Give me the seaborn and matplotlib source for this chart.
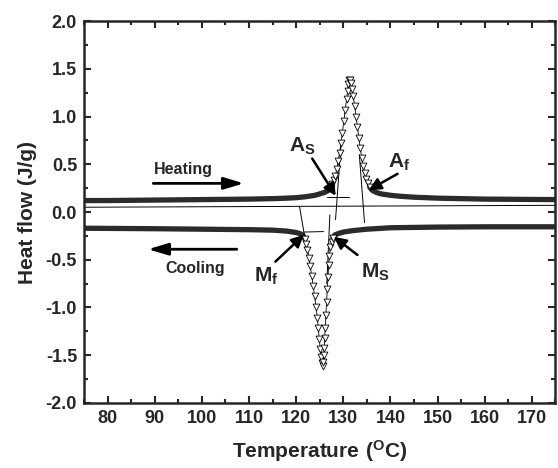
import numpy as np
import matplotlib
matplotlib.use("Agg")
import matplotlib.pyplot as plt
from matplotlib.ticker import MultipleLocator
import seaborn as sns

# --- DATOS (DSC: calentamiento / enfriamiento) ---
# Calentamiento: linea base izquierda, pico endotermico, linea base derecha
heat_left_T = [75, 80, 90, 100, 110, 115, 118, 120, 122, 124, 125, 126, 126.8, 127.3]
heat_left_v = [0.12, 0.12, 0.125, 0.13, 0.135, 0.14, 0.145, 0.15, 0.16, 0.175, 0.19, 0.205, 0.225, 0.25]
heat_peak_T = [127.3, 127.7, 128.0, 128.3, 128.6, 128.9, 129.2, 129.5, 129.8, 130.1, 130.4, 130.7,
               130.9, 131.1, 131.3, 131.5, 131.7, 131.9, 132.1, 132.4, 132.7, 133.0, 133.3, 133.6,
               133.9, 134.2, 134.5, 134.8, 135.2, 135.6]
heat_peak_v = [0.25, 0.29, 0.33, 0.38, 0.45, 0.53, 0.62, 0.72, 0.83, 0.95, 1.07, 1.18,
               1.27, 1.34, 1.38, 1.38, 1.35, 1.29, 1.21, 1.11, 1.00, 0.89, 0.77, 0.67,
               0.57, 0.48, 0.41, 0.35, 0.30, 0.26]
heat_right_T = [135.6, 136.2, 137, 138, 140, 142, 145, 150, 160, 175]
heat_right_v = [0.26, 0.225, 0.205, 0.19, 0.175, 0.165, 0.155, 0.145, 0.135, 0.13]

# Enfriamiento: linea base izquierda, pico exotermico, linea base derecha
cool_left_T = [75, 90, 100, 110, 115, 118, 120, 121, 121.5, 121.8]
cool_left_v = [-0.17, -0.175, -0.18, -0.185, -0.19, -0.2, -0.215, -0.23, -0.25, -0.28]
cool_peak_T = [121.8, 122.1, 122.4, 122.7, 123.0, 123.3, 123.6, 123.9, 124.2, 124.5, 124.7,
               124.9, 125.1, 125.3, 125.45, 125.6, 125.75, 125.85, 125.95, 126.05, 126.15,
               126.3, 126.45, 126.6, 126.75, 126.9, 127.05, 127.25, 127.5, 127.8]
cool_peak_v = [-0.28, -0.33, -0.40, -0.48, -0.57, -0.67, -0.77, -0.88, -0.99, -1.11, -1.22,
               -1.33, -1.43, -1.52, -1.58, -1.61, -1.57, -1.50, -1.42, -1.32, -1.21,
               -1.08, -0.94, -0.81, -0.68, -0.56, -0.46, -0.37, -0.31, -0.27]
cool_right_T = [127.8, 128.2, 129, 130, 132, 135, 140, 150, 160, 175]
cool_right_v = [-0.27, -0.24, -0.225, -0.21, -0.195, -0.18, -0.165, -0.158, -0.155, -0.155]

# Lineas finas de construccion (tangentes y lineas base)
thin_lines = [
    ([75, 175], [0.05, 0.07]),
    ([126.5, 131.3], [0.16, 0.16]),
    ([128.35, 129.5], [-0.08, 0.70]),
    ([134.5, 133.4], [-0.11, 0.60]),
    ([121.6, 125.8], [-0.21, -0.205]),
    ([120.7, 122.3], [0.06, -0.40]),
    ([127.15, 126.5], [-0.03, -0.75]),
]

# Etiquetas de temperaturas de transformacion: (texto, x, y, cola, punta)
labels_tt = [
    (r"$\mathbf{A_S}$", 118.4, 0.63, (123.4, 0.56), (128.4, 0.17)),
    (r"$\mathbf{A_f}$", 139.4, 0.46, (141.5, 0.40), (135.4, 0.23)),
    (r"$\mathbf{M_f}$", 111.0, -0.73, (115.6, -0.52), (121.6, -0.24)),
    (r"$\mathbf{M_S}$", 133.7, -0.69, (133.0, -0.45), (128.0, -0.26)),
]

sns.set_style("ticks")
plt.rcParams["font.family"] = ["Liberation Sans", "DejaVu Sans"]
plt.rcParams["font.weight"] = "bold"
plt.rcParams["axes.unicode_minus"] = False
plt.rcParams["mathtext.fontset"] = "custom"
plt.rcParams["mathtext.bf"] = "Liberation Sans:bold"
plt.rcParams["mathtext.rm"] = "Liberation Sans:bold"

fig, ax = plt.subplots(figsize=(5.58, 4.68), dpi=100)
fig.subplots_adjust(left=0.1505, right=0.9955, top=0.955, bottom=0.139)

# bandas gruesas (lineas base)
for T, v in [(heat_left_T, heat_left_v), (heat_right_T, heat_right_v),
             (cool_left_T, cool_left_v), (cool_right_T, cool_right_v)]:
    sns.lineplot(x=T, y=v, ax=ax, color="#2b2b2b", lw=3.8, estimator=None, sort=False)

# picos con marcadores triangulares
for T, v in [(heat_peak_T, heat_peak_v), (cool_peak_T, cool_peak_v)]:
    sns.lineplot(x=T, y=v, ax=ax, color="black", lw=0.6, estimator=None, sort=False)
    sns.scatterplot(x=T, y=v, ax=ax, marker="v", s=24, color="white",
                    edgecolor="black", linewidth=0.6, zorder=3)

for xs, ys in thin_lines:
    sns.lineplot(x=xs, y=ys, ax=ax, color="black", lw=0.7, estimator=None, sort=False)

# flechas de calentamiento / enfriamiento
big_arrow = dict(arrowstyle="-|>,head_length=0.6,head_width=0.18", lw=2,
                 color="black", shrinkA=0, shrinkB=0, mutation_scale=20)
ax.annotate("", xy=(108.9, 0.30), xytext=(89.7, 0.30), arrowprops=big_arrow)
ax.annotate("", xy=(88.6, -0.39), xytext=(107.4, -0.39), arrowprops=big_arrow)
ax.text(96.1, 0.44, "Heating", fontsize=11.5, fontweight="bold", ha="center", va="center")
ax.text(98.6, -0.59, "Cooling", fontsize=11.5, fontweight="bold", ha="center", va="center")

small_arrow = dict(arrowstyle="-|>,head_length=0.6,head_width=0.3", lw=1.8,
                   color="black", shrinkA=0, shrinkB=0, mutation_scale=12)
for txt, tx, ty, tail, head in labels_tt:
    ax.text(tx, ty, txt, fontsize=15, ha="left", va="baseline")
    ax.annotate("", xy=head, xytext=tail, arrowprops=small_arrow)

ax.set_xlim(75, 175)
ax.set_ylim(-2.0, 2.0)
ax.xaxis.set_major_locator(MultipleLocator(10))
ax.xaxis.set_minor_locator(MultipleLocator(5))
ax.yaxis.set_major_locator(MultipleLocator(0.5))
ax.yaxis.set_minor_locator(MultipleLocator(0.25))
ax.yaxis.set_major_formatter(matplotlib.ticker.FormatStrFormatter("%.1f"))
ax.tick_params(which="both", direction="in", top=True, right=True, width=1.5)
ax.tick_params(which="major", length=5, labelsize=13, pad=5)
ax.tick_params(which="minor", length=3)
for s in ax.spines.values():
    s.set_linewidth(1.8)
    s.set_visible(True)

ax.set_xlabel(r"$\mathbf{Temperature\ (^{O}C)}$", fontsize=15, labelpad=8)
ax.set_ylabel("Heat flow (J/g)", fontsize=15, fontweight="bold", labelpad=6)

plt.savefig("out.png", dpi=100)
